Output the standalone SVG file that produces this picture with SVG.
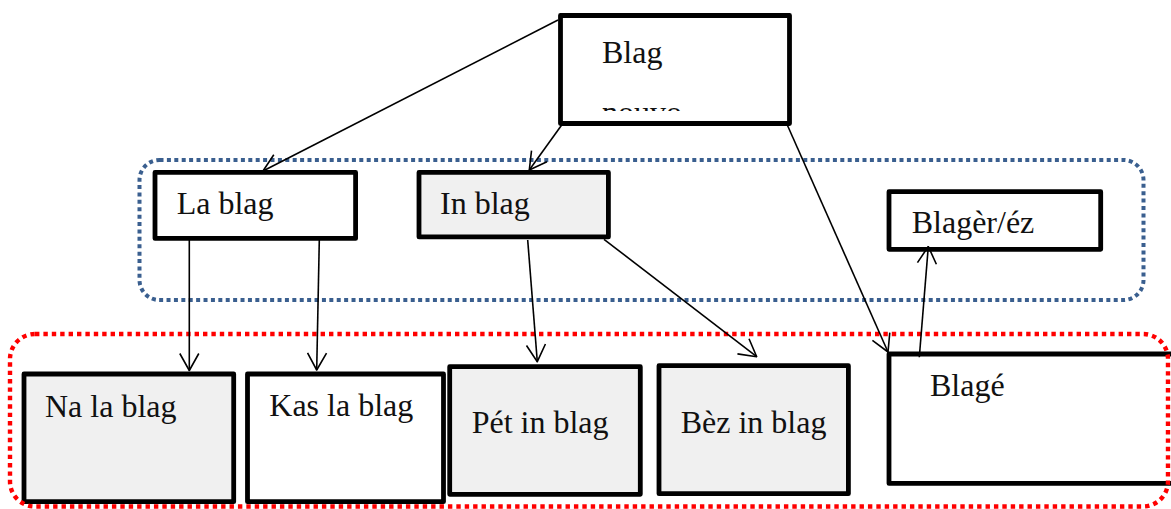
<svg xmlns="http://www.w3.org/2000/svg" width="1171" height="509" viewBox="0 0 1171 509">
  <style>
    .box { stroke: #000; stroke-width: 4.8; stroke-linejoin: round; }
    .plain { fill: #ffffff; }
    .shaded { fill: #f0f0f0; }
    .label { font-family: "Liberation Serif", "Times New Roman", serif; font-size: 32px; fill: #111; }
    .frame { fill: none; stroke-width: 4; }
    .blue { stroke: #3a5f8f; stroke-dasharray: 4 3.4; }
    .red { stroke: #ff0000; stroke-width: 4.4; stroke-dasharray: 4.4 4; }
    .link { fill: none; stroke: #000; stroke-width: 1.6; marker-end: url(#head); }
  </style>
  <defs>
    <marker id="head" markerUnits="userSpaceOnUse" viewBox="-1 -1 19 21" markerWidth="19" markerHeight="21" refX="17" refY="9.5" orient="auto">
      <path d="M0,0 L17,9.5 L0,19" fill="none" stroke="#000" stroke-width="1.6" stroke-linejoin="round"/>
    </marker>
    <!-- the second line of the top box is cut off by the box's lower edge -->
    <clipPath id="blag-inner">
      <rect x="563" y="18" width="224" height="93"/>
    </clipPath>
  </defs>

  <rect width="1171" height="509" fill="#ffffff"/>

  <!-- nodes -->
  <g id="node-blag">
    <rect class="box plain" x="560.5" y="15.5" width="229" height="108" stroke-width="5"/>
    <text class="label" x="602" y="122.5" clip-path="url(#blag-inner)">nouvo</text>
    <text class="label" x="602" y="63">Blag</text>
  </g>
  <g id="node-la-blag">
    <rect class="box plain" x="155" y="172.4" width="200.6" height="66"/>
    <text class="label" x="176.7" y="214">La blag</text>
  </g>
  <g id="node-in-blag">
    <rect class="box shaded" x="419" y="172.4" width="189.4" height="64.5"/>
    <text class="label" x="440" y="214">In blag</text>
  </g>
  <g id="node-blager">
    <rect class="box plain" x="889" y="191.7" width="211.7" height="57.6"/>
    <text class="label" x="911.7" y="233.3">Blagèr/éz</text>
  </g>
  <g id="node-na-la-blag">
    <rect class="box shaded" x="24" y="374" width="209.7" height="127.7"/>
    <text class="label" x="45" y="416.7">Na la blag</text>
  </g>
  <g id="node-kas-la-blag">
    <rect class="box plain" x="247.5" y="374" width="196" height="127.7"/>
    <text class="label" x="269.3" y="416">Kas la blag</text>
  </g>
  <g id="node-pet-in-blag">
    <rect class="box shaded" x="449.7" y="366.7" width="190.6" height="127.6"/>
    <text class="label" x="471.7" y="433.3">Pét in blag</text>
  </g>
  <g id="node-bez-in-blag">
    <rect class="box shaded" x="659" y="365.7" width="189.4" height="128"/>
    <text class="label" x="680.7" y="433">Bèz in blag</text>
  </g>
  <g id="node-blage">
    <rect class="box plain" x="889" y="354" width="400" height="129.4"/>
    <text class="label" x="930" y="396">Blagé</text>
  </g>

  <!-- dotted group frames -->
  <g id="frames">
    <rect class="frame blue" x="139.5" y="160" width="1004" height="140" rx="20" ry="20"/>
    <rect class="frame red" x="10" y="334" width="1158" height="172.5" rx="25" ry="25"/>
  </g>

  <!-- connectors -->
  <g id="connectors">
    <line class="link" x1="558" y1="20" x2="263" y2="171"/>
    <line class="link" x1="561.7" y1="125" x2="529.3" y2="170"/>
    <line class="link" x1="787.3" y1="125" x2="888" y2="352"/>
    <line class="link" x1="189.3" y1="240" x2="189.3" y2="370.5"/>
    <line class="link" x1="319.3" y1="240" x2="316.7" y2="370"/>
    <line class="link" x1="527.7" y1="240" x2="537.3" y2="361.7"/>
    <line class="link" x1="604" y1="239.3" x2="756.7" y2="356.7"/>
    <line class="link" x1="919.3" y1="357.3" x2="928.3" y2="246.5"/>
  </g>
</svg>
